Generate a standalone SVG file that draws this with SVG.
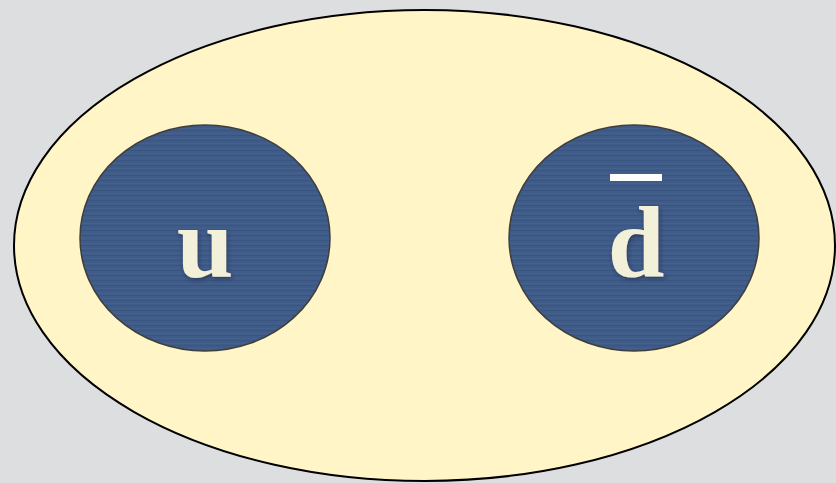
<svg xmlns="http://www.w3.org/2000/svg" width="836" height="483" viewBox="0 0 836 483">
<style>
.quark{fill:url(#tex);stroke:#3f3f3f;stroke-width:1.5}
.lbl{font-family:"Liberation Serif","DejaVu Serif",serif;font-weight:bold;font-size:102px;fill:#f3f0da;text-anchor:middle}
</style>
<defs>
<pattern id="tex" width="12" height="5" patternUnits="userSpaceOnUse">
<rect width="12" height="5" fill="#3f5b88"/>
<rect y="0" width="12" height="1" fill="#3a5581"/>
<rect y="3" width="12" height="1" fill="#44608c"/>
</pattern>
<filter id="sh" x="-20%" y="-20%" width="140%" height="140%">
<feDropShadow dx="1" dy="2" stdDeviation="2" flood-color="#1a2540" flood-opacity="0.6"/>
</filter>
</defs>
<rect width="836" height="483" fill="#dddee0"/>
<g id="hadron">
<ellipse cx="424.5" cy="245.5" rx="410.5" ry="235.5" fill="#fff5c6" stroke="#000" stroke-width="2"/>
</g>
<g id="quark-u">
<ellipse class="quark" cx="205" cy="238" rx="125" ry="113"/>
<text class="lbl" x="205" y="277" filter="url(#sh)">u</text>
</g>
<g id="quark-dbar">
<ellipse class="quark" cx="634" cy="238" rx="125" ry="113"/>
<text class="lbl" x="636" y="277" filter="url(#sh)">d</text>
<rect x="610" y="174" width="52" height="7" fill="#ffffff"/>
</g>
<g id="connectors"/>
</svg>
